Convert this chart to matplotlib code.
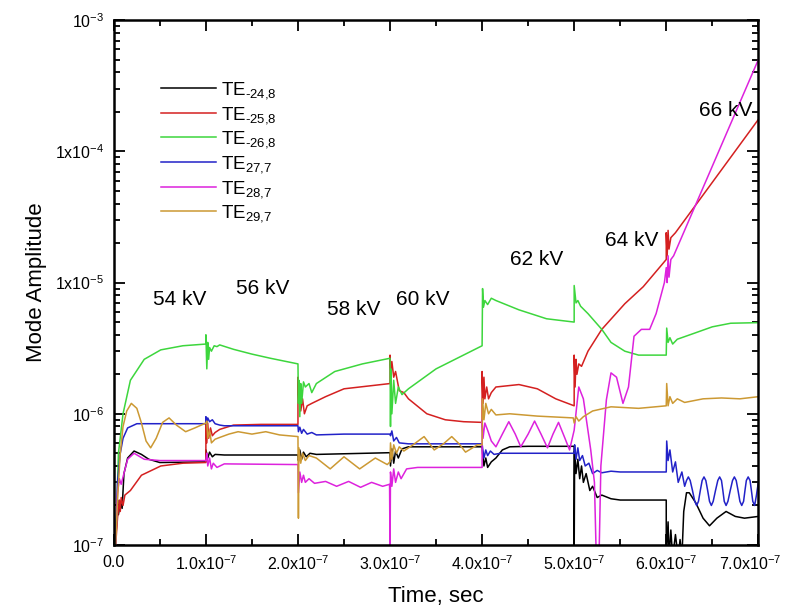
import matplotlib
matplotlib.use('Agg')
import matplotlib.pyplot as plt
import matplotlib.transforms as mtransforms
from matplotlib import rcParams
from matplotlib.ticker import FixedLocator, LogLocator, NullFormatter, MultipleLocator

rcParams['font.family'] = ['Liberation Sans', 'DejaVu Sans']
rcParams['mathtext.fontset'] = 'custom'
rcParams['mathtext.rm'] = 'Liberation Sans'
rcParams['mathtext.it'] = 'Liberation Sans:italic'
rcParams['mathtext.bf'] = 'Liberation Sans:bold'

# time in units of 1e-7 s, amplitude in absolute units
t_black = [0.02, 0.04, 0.05, 0.07, 0.09, 0.11, 0.15, 0.22, 0.3, 0.38, 0.5, 1.0,
           1.0, 1.02, 1.04, 1.07, 1.1, 1.2, 2.0,
           2.005, 2.02, 2.04, 2.06, 2.09, 2.13, 2.2, 3.0,
           3.005, 3.02, 3.04, 3.06, 3.09, 3.13, 3.2, 4.0,
           4.005, 4.02, 4.04, 4.06, 4.1, 4.15, 4.22, 4.3, 4.5, 5.0,
           5.0, 5.005, 5.02, 5.04, 5.06, 5.08, 5.1, 5.13, 5.17, 5.2, 5.25, 5.3, 5.4, 5.5, 6.0,
           6.0, 6.02, 6.03, 6.05, 6.07, 6.1, 6.13, 6.15, 6.17, 6.19, 6.22, 6.25, 6.32, 6.4,
           6.47, 6.55, 6.65, 6.75, 6.85, 7.0]
a_black = [1e-7, 2.2e-7, 1.7e-7, 2.1e-7, 1.9e-7, 3.5e-7, 4.6e-7, 5.2e-7, 4.9e-7, 4.5e-7, 4.25e-7, 4.3e-7,
           5.3e-7, 4.6e-7, 5.1e-7, 4.7e-7, 4.9e-7, 4.85e-7, 4.85e-7,
           4.4e-7, 5.3e-7, 4.5e-7, 5.1e-7, 4.7e-7, 5.0e-7, 4.9e-7, 5.05e-7,
           4.0e-7, 5.4e-7, 4.2e-7, 5.2e-7, 4.6e-7, 5.4e-7, 5.6e-7, 5.6e-7,
           5.0e-7, 4.0e-7, 4.6e-7, 3.9e-7, 4.3e-7, 4.6e-7, 5.3e-7, 5.6e-7, 5.65e-7, 5.65e-7,
           0.8e-7, 5.2e-7, 3.5e-7, 4.5e-7, 3.2e-7, 4.0e-7, 3.0e-7, 3.5e-7, 2.6e-7, 2.8e-7, 2.3e-7, 2.4e-7, 2.25e-7, 2.2e-7, 2.2e-7,
           0.8e-7, 1.5e-7, 0.8e-7, 1.3e-7, 0.8e-7, 1.2e-7, 0.8e-7, 1.1e-7, 0.8e-7, 1.8e-7, 2.5e-7, 2.5e-7, 2.1e-7, 1.6e-7,
           1.4e-7, 1.6e-7, 1.8e-7, 1.65e-7, 1.6e-7, 1.65e-7]

t_red = [0.02, 0.04, 0.06, 0.07, 0.08, 0.1, 0.12, 0.18, 0.3, 0.51, 0.75, 1.0,
         1.0, 1.01, 1.02, 1.03, 1.05, 1.07, 1.1, 1.15, 1.3, 1.6, 2.0,
         2.0, 2.01, 2.02, 2.03, 2.05, 2.07, 2.1, 2.15, 2.3, 2.5, 3.0,
         3.0, 3.01, 3.02, 3.04, 3.06, 3.1, 3.15, 3.2, 3.4, 3.6, 3.8, 4.0,
         4.0, 4.01, 4.02, 4.03, 4.05, 4.07, 4.1, 4.15, 4.4, 4.6, 4.8, 5.0,
         5.0, 5.01, 5.02, 5.03, 5.05, 5.08, 5.15, 5.3, 5.55, 5.75, 6.0,
         6.0, 6.01, 6.02, 6.03, 6.05, 6.1, 7.0]
a_red = [1e-7, 1.6e-7, 2.2e-7, 1.8e-7, 2.3e-7, 2.0e-7, 2.4e-7, 2.6e-7, 3.4e-7, 4.0e-7, 4.2e-7, 4.25e-7,
         9e-7, 6e-7, 8.5e-7, 6.5e-7, 7.8e-7, 6.8e-7, 7.2e-7, 7.6e-7, 8.2e-7, 8.3e-7, 8.3e-7,
         1.9e-6, 1.2e-6, 1.6e-6, 1.05e-6, 1.3e-6, 1.0e-6, 1.15e-6, 1.2e-6, 1.35e-6, 1.55e-6, 1.7e-6,
         2.8e-6, 2.0e-6, 2.5e-6, 1.9e-6, 2.1e-6, 1.5e-6, 1.45e-6, 1.3e-6, 1.0e-6, 0.9e-6, 0.87e-6, 0.86e-6,
         2.1e-6, 1.2e-6, 1.9e-6, 1.3e-6, 1.6e-6, 1.3e-6, 1.45e-6, 1.6e-6, 1.67e-6, 1.55e-6, 1.3e-6, 1.15e-6,
         2.8e-6, 1.6e-6, 2.6e-6, 2.0e-6, 2.4e-6, 2.3e-6, 3.0e-6, 4.4e-6, 6.9e-6, 9.3e-6, 1.5e-5,
         2.4e-5, 1.6e-5, 2.5e-5, 1.8e-5, 2.2e-5, 2.4e-5, 1.75e-4]

t_green = [0.02, 0.05, 0.1, 0.18, 0.33, 0.51, 0.75, 1.0,
           1.0, 1.01, 1.02, 1.03, 1.04, 1.06, 1.09, 1.12, 1.15, 1.3, 1.5, 1.7, 2.0,
           2.005, 2.01, 2.02, 2.03, 2.04, 2.06, 2.08, 2.12, 2.15, 2.2, 2.4, 2.7, 3.0,
           3.005, 3.01, 3.02, 3.04, 3.06, 3.09, 3.13, 3.2, 3.5, 4.0,
           4.005, 4.015, 4.03, 4.06, 4.1, 4.15, 4.4, 4.7, 5.0,
           5.0, 5.02, 5.04, 5.07, 5.15, 5.3, 5.4, 5.55, 5.7, 6.0,
           6.005, 6.02, 6.04, 6.07, 6.12, 6.3, 6.5, 6.7, 7.0]
a_green = [1e-7, 5e-7, 1.0e-6, 1.8e-6, 2.6e-6, 3.07e-6, 3.3e-6, 3.4e-6,
           4.0e-6, 2.2e-6, 3.5e-6, 2.6e-6, 3.2e-6, 3.0e-6, 3.3e-6, 3.25e-6, 3.35e-6, 3.1e-6, 2.85e-6, 2.65e-6, 2.4e-6,
           1.2e-6, 1.8e-6, 0.95e-6, 1.7e-6, 1.2e-6, 1.75e-6, 1.6e-6, 1.7e-6, 1.45e-6, 1.7e-6, 2.1e-6, 2.4e-6, 2.65e-6,
           0.8e-6, 2.2e-6, 1.0e-6, 1.8e-6, 1.2e-6, 1.6e-6, 1.4e-6, 1.55e-6, 2.2e-6, 3.3e-6,
           9e-6, 6.5e-6, 7.3e-6, 6.8e-6, 7.6e-6, 7.3e-6, 6.2e-6, 5.3e-6, 5.0e-6,
           9.5e-6, 7e-6, 7.3e-6, 6.6e-6, 5.8e-6, 4.4e-6, 3.5e-6, 3.0e-6, 2.8e-6, 2.8e-6,
           4.5e-6, 3.5e-6, 3.8e-6, 3.4e-6, 3.7e-6, 4.1e-6, 4.6e-6, 4.9e-6, 4.95e-6]

t_blue = [0.02, 0.04, 0.07, 0.1, 0.15, 0.25, 0.5, 1.0,
          1.0, 1.01, 1.02, 1.04, 1.07, 1.1, 1.15, 1.2, 2.0,
          2.005, 2.02, 2.04, 2.06, 2.1, 2.15, 2.2, 2.5, 3.0,
          3.005, 3.02, 3.04, 3.07, 3.1, 3.2, 4.0,
          4.005, 4.02, 4.04, 4.06, 4.09, 4.13, 4.2, 5.0,
          5.005, 5.02, 5.04, 5.06, 5.09, 5.12, 5.16, 5.2, 5.25, 5.3, 5.4, 5.5, 6.0,
          6.005, 6.02, 6.04, 6.07, 6.1, 6.13, 6.17, 6.2,
          6.22, 6.24, 6.26, 6.285, 6.31, 6.33, 6.35, 6.37, 6.39, 6.41, 6.43, 6.45, 6.47, 6.49, 6.51,
          6.535, 6.56, 6.58, 6.60, 6.615, 6.63, 6.65, 6.67, 6.695, 6.72, 6.74, 6.76, 6.78, 6.80,
          6.82, 6.84, 6.855, 6.87, 6.89, 6.91, 6.925, 6.94, 6.96, 6.98, 7.0]
a_blue = [1e-7, 3e-7, 5e-7, 6.5e-7, 7.8e-7, 8.4e-7, 8.4e-7, 8.4e-7,
          9.5e-7, 8.5e-7, 9.3e-7, 8.7e-7, 9.0e-7, 8.4e-7, 8.2e-7, 8.1e-7, 8.1e-7,
          7.3e-7, 7.9e-7, 7.1e-7, 7.6e-7, 7.0e-7, 7.2e-7, 6.9e-7, 7.0e-7, 7.0e-7,
          6.8e-7, 7.4e-7, 6.2e-7, 6.6e-7, 6.0e-7, 5.9e-7, 5.9e-7,
          5.5e-7, 4.6e-7, 5.3e-7, 4.8e-7, 5.2e-7, 4.9e-7, 5.0e-7, 5.0e-7,
          5.8e-7, 4.5e-7, 5.5e-7, 4.4e-7, 4.8e-7, 4.0e-7, 4.2e-7, 3.5e-7, 3.7e-7, 3.55e-7, 3.65e-7, 3.6e-7, 3.6e-7,
          6.2e-7, 4.4e-7, 5.3e-7, 3.6e-7, 4.3e-7, 3.0e-7, 3.6e-7, 2.8e-7,
          3.1e-7, 3.3e-7, 3.1e-7, 2.6e-7, 2.15e-7, 2.0e-7, 2.15e-7, 2.6e-7, 3.1e-7, 3.3e-7, 3.1e-7, 2.6e-7, 2.15e-7, 2.0e-7, 2.15e-7,
          2.6e-7, 3.1e-7, 3.3e-7, 3.1e-7, 2.6e-7, 2.15e-7, 2.0e-7, 2.15e-7, 2.6e-7, 3.1e-7, 3.3e-7, 3.1e-7, 2.6e-7, 2.15e-7,
          2.0e-7, 2.15e-7, 2.6e-7, 3.1e-7, 3.3e-7, 3.1e-7, 2.6e-7, 2.15e-7, 2.0e-7, 2.4e-7, 3.0e-7]

t_mag = [0.02, 0.04, 0.06, 0.08, 0.1, 0.15, 0.22, 0.33, 0.5, 1.0,
         1.01, 1.02, 1.04, 1.06, 1.08, 1.12, 1.2, 2.0,
         2.005, 2.02, 2.04, 2.06, 2.08, 2.12, 2.18, 2.3, 2.42, 2.55, 2.68, 2.8, 2.92, 2.995,
         3.0, 3.005, 3.02, 3.04, 3.06, 3.09, 3.12, 3.18, 3.3, 4.0,
         4.0, 4.01, 4.03, 4.06, 4.1, 4.15, 4.22, 4.29, 4.36, 4.42, 4.5, 4.57, 4.64, 4.71, 4.77, 4.83, 4.9, 4.95,
         5.0, 5.05, 5.1, 5.18, 5.22, 5.24, 5.27, 5.29, 5.35, 5.4, 5.46, 5.53, 5.59, 5.65, 5.73, 5.82, 5.89, 5.98,
         6.0, 6.01, 6.02, 6.03, 6.05, 6.08, 7.0]
a_mag = [1e-7, 2.5e-7, 3.2e-7, 2.9e-7, 3.3e-7, 4.5e-7, 5.0e-7, 4.5e-7, 4.4e-7, 4.4e-7,
         5.0e-7, 4.0e-7, 4.6e-7, 3.8e-7, 4.2e-7, 3.9e-7, 4.15e-7, 4.1e-7,
         2.5e-7, 3.6e-7, 3.0e-7, 3.4e-7, 3.0e-7, 3.2e-7, 2.95e-7, 3.05e-7, 2.8e-7, 3.05e-7, 2.75e-7, 3.0e-7, 2.8e-7, 2.9e-7,
         0.8e-7, 3.6e-7, 2.8e-7, 3.8e-7, 3.0e-7, 3.6e-7, 3.2e-7, 3.8e-7, 3.9e-7, 3.9e-7,
         9e-7, 6.5e-7, 8.5e-7, 7.5e-7, 6.2e-7, 5.6e-7, 7.0e-7, 8.7e-7, 7.0e-7, 5.6e-7, 7.0e-7, 8.8e-7, 7.0e-7, 5.5e-7, 7.0e-7, 8.6e-7, 6.5e-7, 5.3e-7,
         7.5e-7, 1.6e-6, 1.3e-6, 5.3e-7, 3.0e-7, 0.8e-7, 0.8e-7, 4.0e-7, 1.28e-6, 2.05e-6, 1.9e-6, 1.2e-6, 1.6e-6, 3.9e-6, 4.4e-6, 4.4e-6, 5.8e-6, 1.0e-5,
         1.3e-5, 1.0e-5, 1.6e-5, 1.1e-5, 1.5e-5, 1.6e-5, 5e-4]

t_orange = [0.02, 0.04, 0.07, 0.1, 0.14, 0.19, 0.25, 0.3, 0.35, 0.4, 0.46, 0.53, 0.6, 0.68, 0.78, 0.88, 1.0,
            1.01, 1.02, 1.04, 1.06, 1.1, 1.15, 1.25, 1.35, 1.5, 1.65, 1.8, 2.0,
            2.005, 2.01, 2.03, 2.05, 2.08, 2.12, 2.2, 2.35, 2.5, 2.67, 2.84, 2.97, 3.0,
            3.005, 3.02, 3.04, 3.07, 3.1, 3.15, 3.25, 3.37, 3.48, 3.58, 3.67, 3.75, 3.82, 3.95, 4.0,
            4.005, 4.02, 4.04, 4.07, 4.1, 4.15, 4.3, 4.6, 4.99,
            5.0, 5.02, 5.05, 5.1, 5.2, 5.4, 5.7, 6.0,
            6.005, 6.02, 6.04, 6.07, 6.12, 6.2, 6.4, 6.6, 6.8, 7.0]
a_orange = [1e-7, 2.2e-7, 5e-7, 8e-7, 1.05e-6, 1.2e-6, 1.1e-6, 8.5e-7, 6.2e-7, 5.5e-7, 6.5e-7, 8.6e-7, 9.3e-7, 8.2e-7, 7.3e-7, 7.8e-7, 8.5e-7,
            8.8e-7, 6.5e-7, 7.5e-7, 6.0e-7, 6.4e-7, 6.6e-7, 7.0e-7, 7.3e-7, 7.0e-7, 7.3e-7, 6.9e-7, 6.7e-7,
            1.6e-7, 5.5e-7, 4.2e-7, 5.0e-7, 4.4e-7, 4.8e-7, 4.6e-7, 3.8e-7, 4.7e-7, 3.8e-7, 4.6e-7, 4.1e-7, 4.3e-7,
            6e-7, 4.5e-7, 5.8e-7, 5.0e-7, 5.6e-7, 5.2e-7, 5.8e-7, 6.7e-7, 5.3e-7, 5.9e-7, 6.7e-7, 5.9e-7, 5.1e-7, 5.8e-7, 5.8e-7,
            1.3e-6, 9e-7, 1.2e-6, 1.0e-6, 1.08e-6, 0.98e-6, 1.0e-6, 0.96e-6, 0.93e-6,
            0.85e-6, 0.95e-6, 0.88e-6, 0.95e-6, 1.05e-6, 1.13e-6, 1.1e-6, 1.15e-6,
            1.7e-6, 1.15e-6, 1.35e-6, 1.2e-6, 1.3e-6, 1.22e-6, 1.3e-6, 1.32e-6, 1.3e-6, 1.35e-6]

labels = ['TE$_{\u201024{,}8}$', 'TE$_{\u201025{,}8}$', 'TE$_{\u201026{,}8}$',
          'TE$_{27{,}7}$', 'TE$_{28{,}7}$', 'TE$_{29{,}7}$']
colors = ['black', '#d42020', '#3dd63d', '#2222c8', '#dd22dd', '#cc9933']

voltage_labels = ['54 kV', '56 kV', '58 kV', '60 kV', '62 kV', '64 kV', '66 kV']
voltage_pos = [(0.72, 7.4e-6), (1.62, 9.0e-6), (2.6, 6.2e-6), (3.35, 7.4e-6), (4.59, 1.49e-5), (5.62, 2.1e-5), (6.65, 2.06e-4)]

xtick_vals = [0, 1, 2, 3, 4, 5, 6, 7]
xtick_labels = ['0.0'] + [r'$\mathrm{%d.0x10^{-7}}$' % i for i in range(1, 8)]
ytick_vals = [1e-7, 1e-6, 1e-5, 1e-4, 1e-3]
ytick_labels = [r'$\mathrm{10^{-7}}$', r'$\mathrm{10^{-6}}$', r'$\mathrm{1x10^{-5}}$',
                r'$\mathrm{1x10^{-4}}$', r'$\mathrm{10^{-3}}$']

fig = plt.figure(figsize=(7.85, 6.13), dpi=100)
ax = fig.add_axes([0.145, 0.111, 0.821, 0.856])

series = [(t_black, a_black), (t_red, a_red), (t_green, a_green),
          (t_blue, a_blue), (t_mag, a_mag), (t_orange, a_orange)]
for (t, a), c, lab in zip(series, colors, labels):
    ax.plot([v * 1e-7 for v in t], a, color=c, lw=1.1, label=lab)

ax.set_yscale('log')
ax.set_xlim(0, 7e-7)
ax.set_ylim(1e-7, 1e-3)

ax.xaxis.set_major_locator(FixedLocator([v * 1e-7 for v in xtick_vals]))
ax.xaxis.set_minor_locator(MultipleLocator(0.5e-7))
ax.set_xticklabels(xtick_labels)
ax.yaxis.set_major_locator(FixedLocator(ytick_vals))
ax.yaxis.set_minor_locator(LogLocator(base=10, subs=range(2, 10)))
ax.yaxis.set_minor_formatter(NullFormatter())
ax.set_yticklabels(ytick_labels)

ax.tick_params(which='both', direction='in', top=True, right=True, labelsize=11.5, width=1.3)
ax.tick_params(which='major', length=8, pad=7)
ax.tick_params(which='minor', length=4)
for s in ax.spines.values():
    s.set_linewidth(1.8)

# last x label sits at the figure edge, nudge it left a little
last = ax.get_xticklabels()[-1]
last.set_transform(last.get_transform() + mtransforms.ScaledTranslation(-6 / 72, 0, fig.dpi_scale_trans))

ax.set_xlabel('Time, sec', fontsize=16, labelpad=9)
ax.set_ylabel('Mode Amplitude', fontsize=16, labelpad=6)

for txt, (x, y) in zip(voltage_labels, voltage_pos):
    ax.text(x * 1e-7, y, txt, fontsize=15, ha='center', va='center')

leg = ax.legend(loc='upper left', bbox_to_anchor=(0.062, 0.9), frameon=False,
                fontsize=13.5, handlelength=2.9, handletextpad=0.3, labelspacing=0.2,
                borderaxespad=0)

plt.savefig('out.png', dpi=100)
